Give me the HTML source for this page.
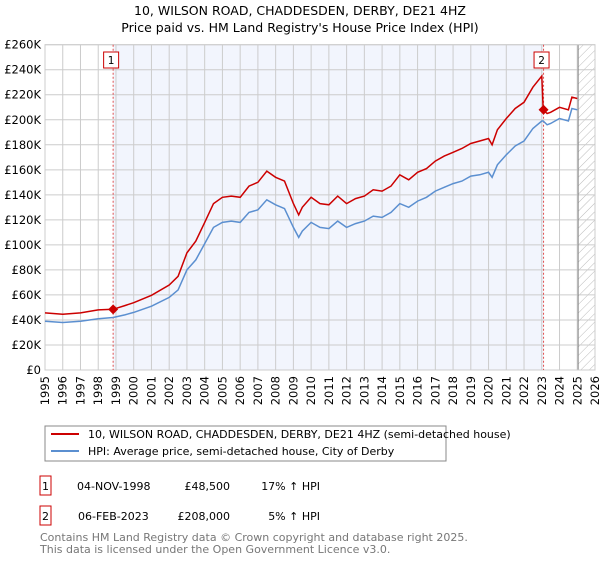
<!DOCTYPE html>
<html><head><meta charset="utf-8"><style>
body{margin:0;background:#fff;font-family:"Liberation Sans","DejaVu Sans",sans-serif;}
svg text{font-family:"DejaVu Sans","Liberation Sans",sans-serif;}
</style></head><body>
<svg width="600" height="560" viewBox="0 0 600 560" xmlns="http://www.w3.org/2000/svg">
<defs><pattern id="hatch" width="6" height="6" patternUnits="userSpaceOnUse" patternTransform="rotate(45)"><line x1="0" y1="0" x2="0" y2="6" stroke="#bbb" stroke-width="1"/></pattern></defs>
<text x="300" y="15" text-anchor="middle" font-size="12.5" fill="#000">10, WILSON ROAD, CHADDESDEN, DERBY, DE21 4HZ</text>
<text x="300" y="32" text-anchor="middle" font-size="12.5" fill="#000">Price paid vs. HM Land Registry's House Price Index (HPI)</text>
<g id="plot"></g>
<g>
<rect x="45" y="426" width="401" height="35" fill="#fff" stroke="#888"/>
<line x1="51" y1="434" x2="79" y2="434" stroke="#cc0000" stroke-width="2"/>
<text x="88" y="438" font-size="11">10, WILSON ROAD, CHADDESDEN, DERBY, DE21 4HZ (semi-detached house)</text>
<line x1="51" y1="451" x2="79" y2="451" stroke="#5b8fd0" stroke-width="2"/>
<text x="88" y="455" font-size="11">HPI: Average price, semi-detached house, City of Derby</text>
</g>
<g>
<rect x="40" y="476" width="11" height="19" fill="#fff" stroke="#cc0000"/>
<text x="45.5" y="490" font-size="11" text-anchor="middle">1</text>
<text x="77" y="490" font-size="11">04-NOV-1998</text>
<text x="230" y="490" font-size="11" text-anchor="end">£48,500</text>
<text x="320" y="490" font-size="11" text-anchor="end">17% ↑ HPI</text>
<rect x="40" y="506" width="11" height="19" fill="#fff" stroke="#cc0000"/>
<text x="45.5" y="520" font-size="11" text-anchor="middle">2</text>
<text x="78" y="520" font-size="11">06-FEB-2023</text>
<text x="230" y="520" font-size="11" text-anchor="end">£208,000</text>
<text x="320" y="520" font-size="11" text-anchor="end">5% ↑ HPI</text>
</g>
<text x="40" y="541" font-size="11" fill="#777">Contains HM Land Registry data © Crown copyright and database right 2025.</text>
<text x="40" y="553" font-size="11" fill="#777">This data is licensed under the Open Government Licence v3.0.</text>
</svg>
<script>
const years=[1995,1996,1997,1998,1998.84,1999.5,2000,2001,2002,2002.5,2003,2003.5,2004,2004.5,2005,2005.5,2006,2006.5,2007,2007.5,2008,2008.5,2009,2009.3,2009.5,2010,2010.5,2011,2011.5,2012,2012.5,2013,2013.5,2014,2014.5,2015,2015.5,2016,2016.5,2017,2017.5,2018,2018.5,2019,2019.5,2020,2020.2,2020.5,2021,2021.5,2022,2022.5,2023,2023.08,2023.3,2023.5,2024,2024.5,2024.7,2025];
const hpiValues=[39,38,39,41,42,44,46,51,58,64,80,88,101,114,118,119,118,126,128,136,132,129,114,106,111,118,114,113,119,114,117,119,123,122,126,133,130,135,138,143,146,149,151,155,156,158,154,164,172,179,183,193,199,199,196,197,201,199,209,208];
const priceValues=[45.6,44.5,45.6,48,48.5,51.5,53.8,59.7,67.9,74.9,93.6,103,118,133,138,139,138,147,150,159,154,151,133,124,130,138,133,132,139,133,137,139,144,143,147,156,152,158,161,167,171,174,177,181,183,185,180,192,201,209,214,226,235,208,205,206,210,208,218,217];
const saleYears=[1998.84,2023.1];
const salePrices=[48.5,208];
const saleLabels=["1","2"];
const yTicks=[0,20,40,60,80,100,120,140,160,180,200,220,240,260];
const xTicks=[1995,1996,1997,1998,1999,2000,2001,2002,2003,2004,2005,2006,2007,2008,2009,2010,2011,2012,2013,2014,2015,2016,2017,2018,2019,2020,2021,2022,2023,2024,2025,2026];
const L=45,R=595,T=44.7,B=370;
const x=v=>L+(v-1995)/(2026-1995)*(R-L);
const y=v=>B-v/260*(B-T);
const NS="http://www.w3.org/2000/svg";
const g=document.getElementById('plot');
function mk(t,a){const e=document.createElementNS(NS,t);for(const k in a)e.setAttribute(k,a[k]);g.appendChild(e);return e;}
let e;
e=mk('rect',{x:x(saleYears[0]),y:T,width:x(saleYears[1])-x(saleYears[0]),height:B-T,fill:'#f2f5fd'});


e=mk('rect',{x:x(2025.05),y:T,width:R-x(2025.05),height:B-T,fill:'url(#hatch)'});


yTicks.forEach(v=>{
 e=mk('line',{x1:L,x2:R,y1:y(v),y2:y(v),stroke:'#ccc','stroke-width':1});
 
 
 e=mk('text',{x:L-4,y:y(v)+4,'text-anchor':'end','font-size':11.5});
 e.textContent=v===0?'£0':'£'+v+'K';
 
 
});
xTicks.forEach(v=>{
 e=mk('line',{x1:x(v),x2:x(v),y1:T,y2:B,stroke:'#ccc','stroke-width':1});
 
 
 e=mk('text',{x:0,y:0,'text-anchor':'end','font-size':11.5,transform:`translate(${x(v)+4},${B+6}) rotate(-90)`});
 e.textContent=v;
 
 
});
e=mk('line',{x1:x(2025.05),x2:x(2025.05),y1:T,y2:B,stroke:'#888','stroke-width':1});


e=mk('rect',{x:L,y:T,width:R-L,height:B-T,fill:'none',stroke:'#ccc'});


saleYears.forEach((s,i)=>{
 e=mk('line',{x1:x(s),x2:x(s),y1:T,y2:B,stroke:'#e05050','stroke-width':1,'stroke-dasharray':'2,2'});
 
 
});
const pts=a=>years.map((yr,i)=>x(yr).toFixed(1)+','+y(a[i]).toFixed(1)).join(' ');
e=mk('polyline',{points:pts(hpiValues),fill:'none',stroke:'#5b8fd0','stroke-width':1.5});


e=mk('polyline',{points:pts(priceValues),fill:'none',stroke:'#cc0000','stroke-width':1.5});


saleYears.forEach((s,i)=>{
 const cx=x(s),cy=y(salePrices[i]);
 e=mk('polygon',{points:`${cx},${cy-5} ${cx+5},${cy} ${cx},${cy+5} ${cx-5},${cy}`,fill:'#cc0000'});
 
 
 e=mk('rect',{x:cx-9.5,y:52,width:15,height:16,fill:'#fff',stroke:'#cc0000'});
 
 
 e=mk('text',{x:cx-2,y:64,'text-anchor':'middle','font-size':10.5});
 e.textContent=saleLabels[i];
 
 
});
</script>
</body></html>
